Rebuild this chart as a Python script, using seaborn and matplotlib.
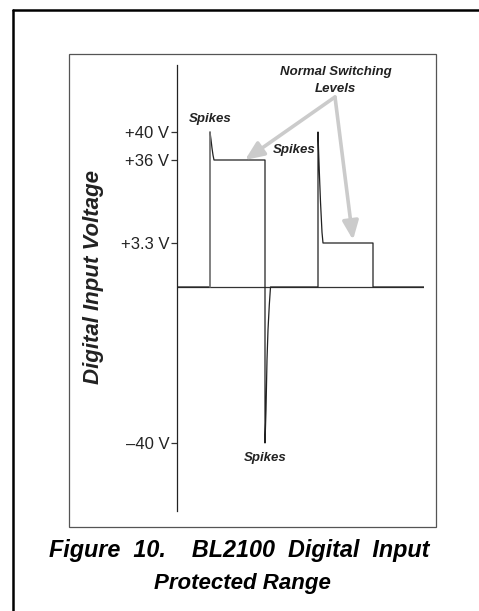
import numpy as np
import pandas as pd
import matplotlib
matplotlib.use("Agg")
import matplotlib.pyplot as plt
import seaborn as sns
from matplotlib.lines import Line2D
from matplotlib.patches import Rectangle

# ---- data (schematic waveform, time in arbitrary units, voltage in V) ----
time = [0, 33, 33, 34, 35, 36, 37, 88, 88, 89, 90, 91, 92.3, 93.5,
        141, 141, 141.5, 142.5, 143.5, 145, 146, 196, 196, 247]
volts = [0, 0, 40, 38.9, 37.7, 36.7, 36, 36, -40, -31.5, -18.7, -11, -4.6, 0,
         0, 40, 37.6, 29.5, 19.5, 7.5, 3.3, 3.3, 0, 0]
tick_values = [40, 36, 3.3, -40]
tick_labels = ["+40 V", "+36 V", "+3.3 V", "\u201340 V"]
spike_labels = ["Spikes", "Spikes", "Spikes"]
spike_pos_t = [33, 117.5, 88]
spike_pos_v = [41.9, 37.4, -43.9]
level_targets_t = [68, 176]
level_targets_v = [36, 4.5]

# schematic (non-linear) voltage axis breakpoints
VB = np.array([-40, 0, 3.3, 36, 40])
TB = np.array([-156, 0, 44, 127, 155])


def fwd(v):
    v = np.asarray(v, float)
    out = np.interp(v, VB, TB)
    out = np.where(v > VB[-1], TB[-1] + (v - VB[-1]) * 7.0, out)
    out = np.where(v < VB[0], TB[0] + (v - VB[0]) * 3.9, out)
    return out


def inv(t):
    t = np.asarray(t, float)
    out = np.interp(t, TB, VB)
    out = np.where(t > TB[-1], VB[-1] + (t - TB[-1]) / 7.0, out)
    out = np.where(t < TB[0], VB[0] + (t - TB[0]) / 3.9, out)
    return out


sns.set_theme(style="white")
plt.rcParams["font.family"] = ["Liberation Sans", "DejaVu Sans"]

W, H = 479, 611
fig = plt.figure(figsize=(W / 100, H / 100), dpi=100)

# outer frame (top + left heavy lines)
fig.add_artist(Line2D([13 / W, 1.0], [1 - 10 / H, 1 - 10 / H], color="black", lw=1.8,
                      transform=fig.transFigure))
fig.add_artist(Line2D([13 / W, 13 / W], [0, 1 - 10 / H], color="black", lw=1.8,
                      transform=fig.transFigure))
# inner box
fig.add_artist(Rectangle((69 / W, (H - 527) / H), 367 / W, 473 / H, fill=False,
                         edgecolor="#555555", lw=0.9, transform=fig.transFigure))

ax = fig.add_axes([177 / W, (H - 511) / H, 247 / W, 446 / H])
ax.set_facecolor("none")
ax.set_yscale("function", functions=(fwd, inv))
ax.set_xlim(0, 247)
ax.set_ylim(float(inv(-224)), float(inv(222)))

df = pd.DataFrame({"time": time, "volts": volts})
ax.axhline(0, color="#333333", lw=0.9, zorder=1)
sns.lineplot(data=df, x="time", y="volts", sort=False, estimator=None,
             color="#222222", lw=0.9, ax=ax, zorder=2)
# lighter leading edge of the first pulse
sns.lineplot(x=time[1:3], y=volts[1:3], sort=False, estimator=None,
             color="#8a8a8a", lw=1.1, ax=ax, zorder=3)

for s in ["top", "right", "bottom"]:
    ax.spines[s].set_visible(False)
ax.spines["left"].set_color("#222222")
ax.spines["left"].set_linewidth(0.9)
ax.set_xticks([])
ax.set_yticks(tick_values)
ax.set_yticklabels(tick_labels)
ax.tick_params(axis="y", left=True, length=4, width=0.9, color="#333333", pad=1.5,
               labelsize=12, labelcolor="#222222")
ax.minorticks_off()
ax.set_xlabel("")
ax.set_ylabel("")

small = dict(fontsize=9.5, fontweight="bold", fontstyle="italic", color="#222222",
             ha="center", va="center")
for lab, t, v in zip(spike_labels, spike_pos_t, spike_pos_v):
    ax.text(t, v, lab, clip_on=False, **small)

ax.text(159, 48.6, "Normal Switching", clip_on=False, **small)
ax.text(158, 46.1, "Levels", clip_on=False, **small)
for tt, vv in zip(level_targets_t, level_targets_v):
    ax.annotate("", xy=(tt, vv), xytext=(158, 45.0),
                arrowprops=dict(arrowstyle="-|>,head_length=0.75,head_width=0.32",
                                color="#cbcbcb", lw=2.6, shrinkA=0, shrinkB=0,
                                mutation_scale=15),
                annotation_clip=False)

fig.text(93 / W, 1 - 277 / H, "Digital Input Voltage", rotation=90, fontsize=16,
         fontweight="bold", fontstyle="italic", color="#222222", ha="center", va="center")

fig.text(239 / W, 1 - 551 / H, "Figure  10.    BL2100  Digital  Input", fontsize=16.8,
         fontweight="bold", fontstyle="italic", color="black", ha="center", va="center")
fig.text(242 / W, 1 - 583 / H, "Protected Range", fontsize=16,
         fontweight="bold", fontstyle="italic", color="black", ha="center", va="center")

fig.savefig("out.png", dpi=100)
